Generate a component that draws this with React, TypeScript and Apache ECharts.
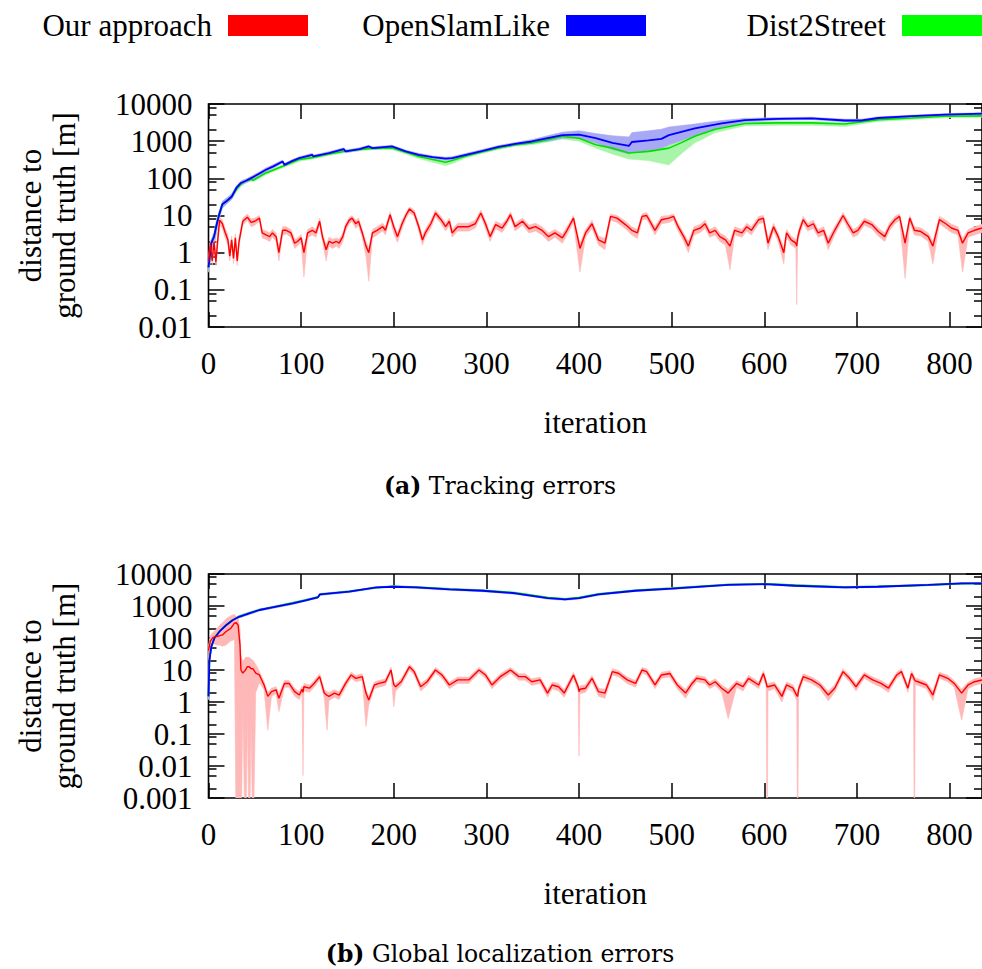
import React, { useEffect, useRef } from "react";
import * as echarts from "echarts";

// ---------- data: [iteration, mean, low, high] ----------
const redTop: number[][] = [
  [0, 0.6, 0.4, 0.8], [2, 1.8, 1.2, 2.2], [4, 0.6, 0.45, 0.9], [6, 2.0, 1.4, 2.4], [8, 0.55, 0.45, 0.8],
  [10, 2.2, 1.6, 3], [12, 7.5, 5.5, 9], [15, 6, 4.5, 7.5], [18, 3.5, 2.5, 4.5], [21, 2.2, 1.6, 3],
  [23, 0.8, 0.6, 1.1], [25, 2.2, 1.6, 2.8], [27, 0.7, 0.5, 1], [29, 2.5, 1.8, 3.2], [31, 0.6, 0.45, 0.8],
  [33, 2.0, 1.5, 2.6], [37, 7, 5.5, 8.5], [42, 9, 7.5, 11], [46, 6.5, 5, 8], [50, 7, 5.5, 8.5],
  [55, 8.5, 7, 10], [58, 3.4, 2.5, 4.2], [62, 3, 2.3, 3.8], [66, 2.7, 2, 3.4], [69, 3.4, 2.6, 4.2],
  [73, 2.7, 2, 3.4], [76, 1, 0.6, 1.4], [80, 4, 3, 5], [84, 4, 3.2, 5], [89, 3.4, 2.6, 4.2],
  [93, 1.8, 1.3, 2.3], [96, 2, 1.5, 2.5], [100, 2.5, 1.9, 3.1], [103, 1, 0.22, 1.3], [107, 3.4, 2.5, 4.2],
  [112, 4, 3, 5], [116, 3.4, 2.6, 4.2], [120, 7, 5.5, 8.5], [123, 2.7, 2, 3.4], [127, 1.2, 0.6, 1.6],
  [130, 2, 1.5, 2.6], [134, 1.8, 1.3, 2.3], [138, 2, 1.5, 2.5], [141, 1.8, 1.3, 2.3], [145, 2.7, 2, 3.4],
  [148, 5, 3.8, 6], [152, 7.5, 6, 9], [155, 8.5, 7, 10], [159, 6, 4.5, 7.5], [162, 7, 5.5, 8.5],
  [166, 3.4, 2.5, 4.2], [170, 1.5, 0.8, 2], [173, 1, 0.17, 1.3], [177, 3.4, 2.5, 4.2], [182, 4, 3, 5],
  [188, 5, 3.8, 6.2], [191, 4, 3, 5], [196, 10.5, 8.5, 12.5], [200, 5, 3.2, 6], [204, 2.7, 1.9, 3.4],
  [209, 6, 4.5, 7.5], [213, 10, 8, 12], [217, 15, 12, 17], [222, 11.7, 9.5, 14], [227, 5, 3.8, 6.2],
  [231, 2.2, 1.6, 2.8], [234, 3.4, 2.6, 4.2], [240, 6, 4.5, 7.5], [245, 11.7, 9.5, 14], [251, 7.7, 6, 9.5],
  [256, 5, 3.8, 6.2], [260, 7, 5.5, 8.5], [263, 3.4, 2.6, 4.2], [269, 5, 3.8, 6.2], [274, 5, 3.8, 6.2],
  [281, 5, 3.8, 6.2], [288, 6, 4.6, 7.5], [294, 11.7, 9.5, 14], [299, 6, 4.5, 7.5], [304, 2.7, 2, 3.4],
  [310, 5.7, 4.4, 7], [317, 4.6, 3.5, 5.8], [322, 7, 5.5, 8.5], [326, 10.5, 8.5, 12.5], [331, 5, 3.8, 6.2],
  [339, 7, 5.5, 8.5], [346, 4.4, 3.4, 5.5], [353, 5, 3.8, 6.2], [360, 4, 3, 5], [367, 2.7, 2, 3.4],
  [374, 3.4, 2.6, 4.2], [382, 2.5, 1.8, 3.2], [387, 4, 3, 5], [394, 8.5, 6.5, 10], [401, 1.3, 0.3, 1.8],
  [407, 3.4, 2.6, 4.2], [414, 6, 4.5, 7.5], [421, 2.2, 1.6, 2.8], [428, 1.8, 1.2, 2.4], [434, 9.5, 7.5, 11],
  [441, 8.5, 6.5, 10], [450, 5.7, 4.4, 7], [457, 4, 3, 5], [463, 3.4, 2.4, 4.2], [468, 9.5, 7.5, 11],
  [473, 10, 8, 12], [482, 4, 3, 5], [489, 7.7, 6, 9.5], [497, 8.5, 6.5, 10], [502, 9.5, 7.5, 11],
  [507, 5, 3.8, 6.2], [513, 2.7, 2, 3.4], [518, 1.5, 1, 2], [524, 4, 3, 5], [531, 4.6, 3.5, 5.8],
  [536, 6, 4.5, 7.5], [541, 3.4, 2.6, 4.2], [547, 4, 3, 5], [552, 2.7, 2, 3.4], [558, 2.2, 1.6, 2.8],
  [563, 1.5, 0.35, 2], [568, 4, 3, 5], [576, 3.4, 2.6, 4.2], [581, 5, 3.8, 6.2], [586, 4, 3, 5],
  [594, 7.7, 6, 9.5], [599, 8.5, 6.5, 10], [604, 1.8, 1.2, 2.4], [610, 5, 3.8, 6.2], [615, 2.7, 2, 3.4],
  [621, 1, 0.5, 1.4], [624, 3.4, 2.6, 4.2], [629, 2.2, 1.6, 2.8], [634, 1.8, 1.3, 2.3], [635, 1.5, 0.04, 2],
  [636, 2.5, 1.8, 3.2], [638, 4, 3, 5], [642, 7.7, 6, 9.5], [647, 5, 3.8, 6.2], [653, 6, 4.5, 7.5],
  [658, 3.4, 2.6, 4.2], [664, 4, 3, 5], [669, 1.8, 1.2, 2.4], [676, 4, 3, 5], [685, 10, 8, 12],
  [690, 6, 4.5, 7.5], [696, 3.4, 2.6, 4.2], [701, 4, 3, 5], [708, 7, 5.5, 8.5], [716, 5.7, 4.4, 7],
  [723, 3.7, 2.8, 4.6], [730, 2.7, 2, 3.4], [735, 5, 3.8, 6.2], [741, 7.7, 6, 9.5], [746, 9.5, 7.5, 11],
  [752, 1.8, 0.2, 2.4], [757, 8.5, 6.5, 10], [762, 4, 3, 5], [769, 3.7, 2.8, 4.6], [777, 2.7, 2, 3.4],
  [782, 1.5, 0.5, 2], [789, 7.7, 6, 9.5], [796, 6, 4.5, 7.5], [802, 4.6, 3.5, 5.8], [809, 4, 3, 5],
  [814, 1.8, 0.3, 2.4], [820, 3.4, 2.6, 4.2], [827, 4, 3, 5], [835, 4.6, 3.5, 5.8],
];

const blueTop: number[][] = [
  [0, 0.4, 0.3, 0.6], [3, 1.8, 0.8, 2.2], [6, 2.7, 1.5, 3.5], [9, 6, 4, 8], [12, 11.7, 9, 14],
  [15, 20, 16, 24], [20, 25, 21, 30], [25, 32, 27, 38], [30, 55, 47, 62], [35, 75, 65, 85],
  [40, 85, 75, 95], [48, 108, 95, 120], [55, 135, 120, 150], [62, 170, 150, 190], [70, 210, 190, 235],
  [80, 285, 260, 310], [82, 230, 210, 250], [90, 290, 265, 315], [98, 350, 320, 380], [112, 430, 395, 470],
  [113, 390, 360, 420], [130, 480, 440, 520], [146, 610, 560, 660], [148, 530, 490, 570], [163, 610, 560, 660],
  [173, 720, 660, 780], [177, 650, 600, 700], [198, 720, 660, 780], [213, 530, 490, 570], [227, 430, 395, 470],
  [242, 370, 340, 400], [256, 340, 310, 370], [263, 350, 320, 380], [278, 430, 395, 470], [296, 550, 500, 600],
  [313, 700, 640, 760], [331, 840, 770, 920], [349, 980, 880, 1100], [366, 1200, 1000, 1400], [382, 1450, 1200, 1750],
  [400, 1500, 1200, 1900], [418, 1200, 900, 1600], [436, 900, 600, 1400], [454, 750, 450, 1300], [457, 950, 500, 1700],
  [475, 1050, 550, 1900], [489, 1150, 650, 2100], [497, 1450, 800, 2400], [525, 2200, 1400, 2900], [554, 3000, 2400, 3600],
  [579, 3700, 3300, 4100], [615, 4000, 3700, 4300], [651, 4100, 3800, 4400], [687, 3600, 3300, 3900], [705, 3600, 3300, 3900],
  [723, 4200, 3900, 4500], [759, 4700, 4300, 5000], [795, 5200, 4800, 5500], [835, 5500, 5100, 5800],
];

const greenTop: number[][] = [
  [0, 0.4, 0.3, 0.6], [3, 1.8, 0.8, 2.2], [6, 2.7, 1.5, 3.5], [9, 6, 4, 8], [12, 11.7, 9, 14],
  [15, 20, 16, 24], [20, 25, 21, 30], [25, 32, 27, 38], [30, 50, 43, 58], [35, 70, 60, 80],
  [40, 85, 75, 95], [47, 95, 85, 105], [48, 88, 80, 96], [62, 140, 125, 155], [80, 210, 190, 230],
  [98, 320, 290, 350], [112, 360, 330, 390], [130, 450, 410, 490], [146, 530, 490, 570], [163, 600, 550, 650],
  [177, 640, 590, 690], [198, 660, 600, 720], [213, 500, 450, 550], [227, 390, 340, 440], [242, 320, 270, 370],
  [256, 270, 220, 320], [263, 300, 250, 350], [278, 400, 360, 440], [296, 520, 470, 570], [313, 660, 600, 720],
  [331, 800, 730, 870], [349, 890, 800, 980], [366, 1100, 950, 1250], [382, 1350, 1150, 1550], [400, 1200, 1000, 1400],
  [418, 800, 650, 950], [436, 650, 450, 800], [454, 480, 330, 600], [475, 530, 300, 700], [497, 650, 230, 900],
  [510, 900, 450, 1200], [525, 1350, 900, 1700], [547, 2100, 1700, 2500], [579, 3000, 2600, 3300], [615, 3100, 2700, 3400],
  [651, 3100, 2700, 3400], [687, 2900, 2500, 3200], [723, 3800, 3400, 4100], [759, 4200, 3800, 4500], [795, 4700, 4300, 5000],
  [835, 4800, 4400, 5100],
];

const redBottom: number[][] = [
  [0, 40, 20, 60], [2, 80, 50, 120], [5, 105, 70, 150], [8, 110, 60, 180], [12, 118, 60, 250],
  [15, 125, 55, 300], [19, 160, 60, 400], [24, 200, 80, 500], [28, 290, 90, 550], [30, 300, 0.00001, 450],
  [32, 250, 0.00001, 400], [34, 60, 0.00001, 200], [35, 10, 0.00001, 30], [37, 8, 0.5, 18], [40, 10, 0.00001, 25],
  [42, 12.7, 0.3, 25], [44, 12.7, 0.00001, 25], [46, 11, 0.2, 22], [48, 11, 0.00001, 20], [51, 8, 2, 15],
  [55, 7, 4, 9], [60, 3.4, 2.4, 4.4], [64, 1.5, 0.13, 2], [68, 2.1, 1.5, 2.7], [73, 2.4, 1.8, 3],
  [76, 1.3, 0.5, 1.8], [82, 3.8, 2.9, 4.7], [87, 3.8, 2.9, 4.7], [93, 2.1, 1.5, 2.7], [98, 1.65, 1.2, 2.1],
  [101, 2.5, 1.8, 3.2], [102, 2, 0.005, 2.6], [103, 3, 2.2, 3.8], [109, 2.7, 2, 3.4], [114, 3.8, 2.9, 4.7],
  [120, 6.2, 4.8, 7.6], [125, 1.9, 1.3, 2.5], [128, 1.6, 0.13, 2.1], [130, 1.5, 1.1, 2], [136, 1.9, 1.4, 2.4],
  [141, 1.65, 1.2, 2.1], [148, 3.8, 2.9, 4.7], [154, 7, 5.5, 8.5], [159, 5.5, 4.3, 6.8], [166, 6.2, 4.8, 7.6],
  [170, 1.9, 0.17, 2.5], [173, 1.15, 0.8, 1.5], [179, 3.4, 2.6, 4.2], [184, 3.8, 2.9, 4.7], [191, 4.3, 3.3, 5.3],
  [197, 10, 8, 12], [200, 3.5, 0.7, 4.3], [202, 3, 2.2, 3.8], [208, 4.3, 3.3, 5.3], [217, 12.7, 10, 15],
  [222, 8.9, 7, 11], [229, 3, 2.2, 3.8], [236, 4.3, 3.3, 5.3], [245, 10, 8, 12], [252, 7, 5.5, 8.5],
  [260, 3.4, 2.6, 4.2], [269, 4.9, 3.8, 6], [281, 4.9, 3.8, 6], [292, 10, 8, 12], [299, 7, 5.5, 8.5],
  [306, 3.4, 2.6, 4.2], [315, 6.2, 4.8, 7.6], [326, 10, 8, 12], [335, 6.2, 4.8, 7.6], [342, 6.2, 4.8, 7.6],
  [349, 4.3, 3.3, 5.3], [358, 4.9, 3.8, 6], [366, 1.9, 1.4, 2.4], [371, 3.4, 2.6, 4.2], [378, 3, 2.2, 3.8],
  [384, 1.9, 1.4, 2.4], [394, 7, 5.5, 8.5], [399, 3, 2.2, 3.8], [400, 2.1, 0.02, 2.7], [401, 2.5, 1.8, 3.2],
  [407, 2.7, 2, 3.4], [414, 5.5, 4.3, 6.8], [421, 2.1, 1.5, 2.7], [428, 1.9, 1.3, 2.5], [436, 8.9, 7, 11],
  [443, 7.8, 6, 9.5], [452, 4.9, 3.8, 6], [461, 3.8, 2.9, 4.7], [468, 10, 8, 12], [473, 8.9, 7, 11],
  [482, 3.4, 2.6, 4.2], [489, 7, 5.5, 8.5], [498, 7.8, 6, 9.5], [506, 3.4, 2.6, 4.2], [515, 1.9, 1.3, 2.5],
  [522, 3.8, 2.9, 4.7], [527, 5.5, 4.3, 6.8], [536, 4.9, 3.8, 6], [541, 3.4, 2.6, 4.2], [547, 4.3, 3.3, 5.3],
  [554, 2.7, 2, 3.4], [561, 1.9, 0.3, 2.5], [570, 3.8, 2.9, 4.7], [577, 3, 2.2, 3.8], [583, 5.5, 4.3, 6.8],
  [594, 3.4, 2.6, 4.2], [599, 7.8, 6, 9.5], [602, 4, 3, 5], [603, 3, 0.00001, 3.8], [604, 3, 2.2, 3.8],
  [611, 3.4, 2.6, 4.2], [619, 1.5, 1, 2], [624, 3.4, 2.6, 4.2], [631, 2.7, 2, 3.4], [635, 1.6, 1.1, 2.1],
  [636, 1.5, 0.00001, 2], [637, 2.5, 1.8, 3.2], [642, 6.2, 4.8, 7.6], [651, 4.9, 3.8, 6], [660, 3.4, 2.6, 4.2],
  [669, 1.65, 1.1, 2.2], [676, 2.7, 2, 3.4], [685, 8.9, 7, 11], [692, 5.5, 4.3, 6.8], [699, 3, 2.2, 3.8],
  [708, 7, 5.5, 8.5], [717, 4.9, 3.8, 6], [726, 3.8, 2.9, 4.7], [734, 2.7, 2, 3.4], [743, 7, 5.5, 8.5],
  [748, 8.9, 7, 11], [755, 2.7, 2, 3.4], [759, 7.8, 6, 9.5], [761, 6, 4.5, 7.5], [762, 5, 0.00001, 6],
  [763, 4.6, 3.5, 5.7], [766, 4.3, 3.3, 5.3], [775, 3.4, 2.6, 4.2], [782, 1.65, 1.1, 2.2], [789, 7, 5.5, 8.5],
  [798, 5.5, 4.3, 6.8], [805, 3.8, 2.9, 4.7], [813, 1.9, 0.27, 2.5], [820, 3.4, 2.6, 4.2], [827, 4.3, 3.3, 5.3],
  [835, 4.9, 3.8, 6],
];

const blueBottom: number[][] = [
  [0, 1.5, 1.2, 1.8], [1, 20, 15, 25], [3, 53, 45, 60], [6.5, 100, 90, 110], [12, 160, 145, 175],
  [19, 250, 230, 270], [26, 360, 330, 390], [33, 460, 420, 500], [44, 590, 540, 640], [55, 750, 700, 800],
  [69, 900, 840, 960], [91, 1200, 1120, 1280], [105, 1500, 1400, 1600], [118, 1850, 1750, 1950], [120, 2300, 2150, 2450],
  [152, 2800, 2650, 2950], [181, 3800, 3600, 4000], [199, 4000, 3800, 4200], [224, 3800, 3600, 4000], [260, 3300, 3100, 3500],
  [296, 3000, 2800, 3200], [331, 2500, 2350, 2650], [366, 1750, 1650, 1850], [385, 1600, 1500, 1700], [400, 1750, 1650, 1850],
  [421, 2300, 2150, 2450], [461, 3000, 2850, 3150], [500, 3500, 3300, 3700], [561, 4600, 4400, 4800], [601, 4800, 4600, 5000],
  [633, 4300, 4100, 4500], [687, 3800, 3600, 4000], [723, 4000, 3800, 4200], [777, 4600, 4400, 4800], [813, 5100, 4900, 5300],
  [835, 5100, 4900, 5300],
];

const greenBottom: number[][] = [
  [0, 1.5, 1.2, 1.8], [1, 20, 15, 25], [3, 55, 47, 62], [6.5, 105, 95, 115], [12, 165, 150, 180],
  [19, 255, 235, 275], [26, 365, 335, 395], [33, 470, 430, 510], [44, 600, 550, 650], [55, 760, 710, 810],
  [69, 920, 860, 980], [91, 1250, 1170, 1330], [105, 1550, 1450, 1650], [118, 1900, 1800, 2000], [121, 2300, 2150, 2450],
  [152, 2900, 2750, 3050], [181, 3700, 3500, 3900], [199, 4100, 3900, 4300], [224, 3900, 3700, 4100], [260, 3400, 3200, 3600],
  [296, 3050, 2850, 3250], [331, 2600, 2450, 2750], [366, 1850, 1750, 1950], [385, 1650, 1550, 1750], [400, 1850, 1750, 1950],
  [421, 2350, 2200, 2500], [461, 3100, 2950, 3250], [500, 3600, 3400, 3800], [561, 4700, 4500, 4900], [601, 4900, 4700, 5100],
  [633, 4500, 4300, 4700], [687, 3900, 3700, 4100], [723, 4100, 3900, 4300], [777, 4500, 4300, 4700], [813, 5000, 4800, 5200],
  [835, 5200, 5000, 5400],
];

const xTicks = [0, 100, 200, 300, 400, 500, 600, 700, 800];
const yTicksTop = [0.01, 0.1, 1, 10, 100, 1000, 10000];
const yLabelsTop = ["0.01", "0.1", "1", "10", "100", "1000", "10000"];
const yTicksBottom = [0.001, 0.01, 0.1, 1, 10, 100, 1000, 10000];
const yLabelsBottom = ["0.001", "0.01", "0.1", "1", "10", "100", "1000", "10000"];
const yMinorTop = [0.02, 0.05, 0.08, 0.2, 0.5, 0.8, 2, 5, 8, 20, 50, 80, 200, 500, 800, 2000, 5000, 8000];
const yMinorBottom = [0.002, 0.005, 0.008, ...yMinorTop];

const legendNames = ["Our approach", "OpenSlamLike", "Dist2Street"];
const lineColors = ["#ff0000", "#0000ff", "#00e000"];
const legendColors = ["#ff0000", "#0000ff", "#00ff00"];
const bandColors = ["#ffb8b8", "#a8a8f4", "#a8f4a8"];
const captions = ["Tracking errors", "Global localization errors"];
const captionTags = ["(a)", "(b)"];

const SERIF = "Liberation Serif, Times New Roman, serif";
const CAPTION_FONT = "DejaVu Serif, serif";
const FS = 31;

const X_MAX = 835;
const GRID_LEFT = 208.5;
const GRID_W = 775.5;
const grids = [
  { top: 104, height: 223 },
  { top: 574, height: 224 },
];

function fmtFactory(vals: number[], labels: string[]) {
  return (v: number) => {
    const i = vals.findIndex((t) => Math.abs(Math.log10(t) - Math.log10(v)) < 1e-6);
    return i >= 0 ? labels[i] : "";
  };
}

function bandSeries(name: string, data: number[][], color: string, xi: number, yi: number) {
  return {
    type: "custom",
    name,
    xAxisIndex: xi,
    yAxisIndex: yi,
    silent: true,
    clip: true,
    z: 1,
    data: [[data[0][0], data[0][1]]],
    renderItem: (_params: any, api: any) => {
      const upper = data.map((d) => api.coord([d[0], d[3]]));
      const lower = data.slice().reverse().map((d) => api.coord([d[0], d[2]]));
      return {
        type: "polygon",
        shape: { points: upper.concat(lower) },
        style: { fill: color, stroke: color, lineWidth: 0.6 },
      };
    },
  };
}

function lineSeries(name: string, data: number[][], color: string, xi: number, yi: number, z: number, w: number) {
  return {
    type: "line",
    name,
    xAxisIndex: xi,
    yAxisIndex: yi,
    data: data.map((d) => [d[0], d[1]]),
    showSymbol: false,
    symbol: "none",
    clip: true,
    z,
    lineStyle: { color, width: w },
    itemStyle: { color },
  };
}

export default function App() {
  const ref = useRef<HTMLDivElement>(null);
  useEffect(() => {
    if (!ref.current) return;
    const chart = echarts.init(ref.current, undefined, { renderer: "svg" });

    const xAxes: any[] = [];
    const yAxes: any[] = [];
    const tickStyle = { color: "#000", width: 1.5 };
    grids.forEach((_g, gi) => {
      xAxes.push({
        type: "value", gridIndex: gi, position: "bottom", min: 0, max: X_MAX, interval: 100,
        axisLine: { show: false }, splitLine: { show: false },
        axisTick: { show: true, inside: true, length: 15, lineStyle: tickStyle, customValues: xTicks },
        axisLabel: { show: true, customValues: xTicks, margin: 21, fontFamily: SERIF, fontSize: FS, color: "#000" },
        name: "iteration", nameLocation: "middle", nameGap: 80,
        nameTextStyle: { fontFamily: SERIF, fontSize: FS, color: "#000" },
      });
      xAxes.push({
        type: "value", gridIndex: gi, position: "top", min: 0, max: X_MAX, interval: 100,
        axisLine: { show: false }, splitLine: { show: false },
        axisTick: { show: true, inside: true, length: 15, lineStyle: tickStyle, customValues: xTicks },
        axisLabel: { show: false },
      });
      const min = gi === 0 ? 0.01 : 0.001;
      const majors = gi === 0 ? yTicksTop : yTicksBottom;
      const labels = gi === 0 ? yLabelsTop : yLabelsBottom;
      const minors = gi === 0 ? yMinorTop : yMinorBottom;
      const base = {
        type: "log", logBase: 10, gridIndex: gi, min, max: 10000,
        axisLine: { show: false }, splitLine: { show: false },
      };
      yAxes.push({
        ...base, position: "left",
        axisTick: { show: true, inside: true, length: 16, lineStyle: tickStyle, customValues: majors },
        axisLabel: {
          show: true, customValues: majors, margin: 16, fontFamily: SERIF, fontSize: FS, color: "#000",
          formatter: fmtFactory(majors, labels),
        },
      });
      yAxes.push({
        ...base, position: "left",
        axisTick: { show: true, inside: true, length: 8, lineStyle: tickStyle, customValues: minors },
        axisLabel: { show: false },
      });
      yAxes.push({
        ...base, position: "right",
        axisTick: { show: true, inside: true, length: 16, lineStyle: tickStyle, customValues: majors },
        axisLabel: { show: false },
      });
      yAxes.push({
        ...base, position: "right",
        axisTick: { show: true, inside: true, length: 8, lineStyle: tickStyle, customValues: minors },
        axisLabel: { show: false },
      });
    });

    const panels = [
      { red: redTop, blue: blueTop, green: greenTop },
      { red: redBottom, blue: blueBottom, green: greenBottom },
    ];
    const series: any[] = [];
    panels.forEach((p, gi) => {
      const xi = gi * 2;
      const yi = gi * 4;
      series.push(bandSeries("band-g" + gi, p.green, bandColors[2], xi, yi));
      series.push(bandSeries("band-b" + gi, p.blue, bandColors[1], xi, yi));
      series.push(bandSeries("band-r" + gi, p.red, bandColors[0], xi, yi));
      series.push(lineSeries(legendNames[2], p.green, lineColors[2], xi, yi, 3, 1.6));
      series.push(lineSeries(legendNames[1], p.blue, lineColors[1], xi, yi, 4, 1.8));
      series.push(lineSeries(legendNames[0], p.red, lineColors[0], xi, yi, 5, 1.4));
    });

    const legendRight = [674, 336, 0];
    const legends = legendNames.map((name, i) => ({
      show: true,
      data: [{ name, icon: "rect", itemStyle: { color: legendColors[i], borderWidth: 0 } }],
      right: legendRight[i],
      top: 10,
      padding: 0,
      align: "right",
      orient: "horizontal",
      itemWidth: 80,
      itemHeight: 21,
      selectedMode: false,
      textStyle: { fontFamily: SERIF, fontSize: FS, color: "#000", padding: [0, 11, 0, 0] },
    }));

    const graphic: any[] = [];
    grids.forEach((g, gi) => {
      const cy = g.top + g.height / 2;
      graphic.push({
        type: "text", x: 30, y: cy, rotation: Math.PI / 2,
        style: { text: "distance to", fontFamily: SERIF, fontSize: FS, fill: "#000", textAlign: "center", textVerticalAlign: "middle" },
      });
      graphic.push({
        type: "text", x: 64, y: cy, rotation: Math.PI / 2,
        style: { text: "ground truth [m]", fontFamily: SERIF, fontSize: FS, fill: "#000", textAlign: "center", textVerticalAlign: "middle" },
      });
      graphic.push({
        type: "text", x: 500, y: gi === 0 ? 486 : 954,
        style: {
          text: "{b|" + captionTags[gi] + "} " + captions[gi],
          rich: { b: { fontFamily: CAPTION_FONT, fontSize: 23.5, fontWeight: "bold", fill: "#000" } },
          fontFamily: CAPTION_FONT, fontSize: 23.5, fill: "#000", textAlign: "center", textVerticalAlign: "middle",
        },
      });
    });

    chart.setOption({
      animation: false,
      backgroundColor: "#fff",
      grid: grids.map((g) => ({
        left: GRID_LEFT, top: g.top, width: GRID_W, height: g.height,
        show: true, borderColor: "#000", borderWidth: 1.6, backgroundColor: "transparent",
      })),
      legend: legends,
      xAxis: xAxes,
      yAxis: yAxes,
      series,
      graphic,
    });
    return () => chart.dispose();
  }, []);
  return (
    <div
      ref={ref}
      style={{ position: "absolute", left: 0, top: 0, width: 982, height: 969, background: "#fff" }}
    />
  );
}
